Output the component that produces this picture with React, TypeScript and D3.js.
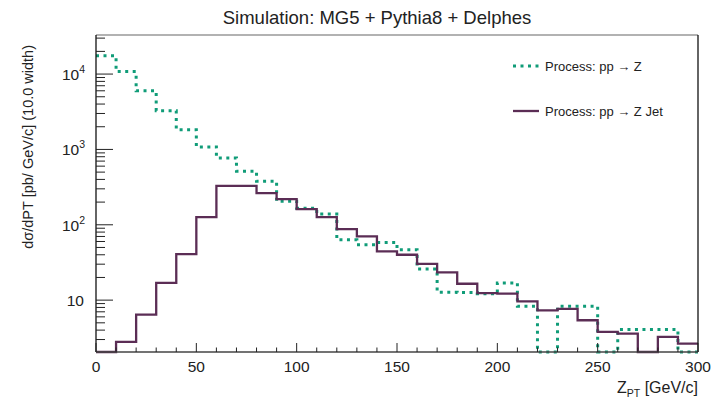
import React from "react";
import * as d3 from "d3";

const binEdges = d3.range(0, 301, 10);
const zValues = [17500, 10800, 6010, 3270, 1830, 1080, 771, 513, 379, 206, 166, 139, 63.2, 54.3, 58.3, 46.6, 25.9, 12.7, 12.6, 12.2, 16.9, 8.28, 0, 8.28, 8.28, 0, 4.07, 4.07, 4.07, 0];
const zJetValues = [0, 2.79, 6.42, 16.9, 40.9, 126, 329, 329, 263, 219, 161, 126, 87.7, 70, 44.3, 40, 30.2, 23.3, 16.5, 12.4, 12.2, 9.64, 7.33, 7.64, 5.41, 3.8, 3.6, 0, 3.26, 2.65];
const xTicks = [0, 50, 100, 150, 200, 250, 300];
const yDecades = [1, 2, 3, 4];
const legendLabels = ["Process: pp \u2192 Z", "Process: pp \u2192 Z Jet"];

const W = 714, H = 402;
const L = 96, R = 698, T = 35, B = 352;
const FONT = "'Liberation Sans', Arial, Helvetica, sans-serif";
const GREEN = "#109c78";
const PURPLE = "#5b2d55";

export default function App() {
  const yMin = 2.05, yMax = 33000;
  const x = d3.scaleLinear().domain([0, 300]).range([L, R]);
  const y = d3.scaleLog().domain([yMin, yMax]).range([B, T]);
  const yc = (v: number) => y(Math.max(v, yMin));

  const stepPts = (vals: number[]) => {
    const pts: [number, number][] = [];
    vals.forEach((v, i) => {
      pts.push([x(binEdges[i]), yc(v)]);
      pts.push([x(binEdges[i + 1]), yc(v)]);
    });
    return pts;
  };
  const line = d3.line<[number, number]>();

  const minorX = d3.range(0, 301, 10).filter((v) => v % 50 !== 0);
  const yMinor: number[] = [];
  for (let e = 0; e <= 4; e++) {
    for (let m = 2; m <= 9; m++) {
      const v = m * Math.pow(10, e);
      if (v > yMin && v < yMax) yMinor.push(v);
    }
  }

  return (
    <svg width={W} height={H} style={{ position: "absolute", left: 0, top: 0, background: "#fff" }} fontFamily={FONT}>
      <rect x={0} y={0} width={W} height={H} fill="#fff" />
      <text x={377} y={24} textAnchor="middle" fontSize={18.5} fill="#222">Simulation: MG5 + Pythia8 + Delphes</text>

      {/* data */}
      <path d={line(stepPts(zValues)) || ""} fill="none" stroke={GREEN} strokeWidth={3} strokeDasharray="3 4.5" />
      <path d={line(stepPts(zJetValues)) || ""} fill="none" stroke={PURPLE} strokeWidth={2.3} />

      {/* frame */}
      <line x1={L} x2={R} y1={T} y2={T} stroke="#999" strokeWidth={1.5} />
      <line x1={R} x2={R} y1={T} y2={B} stroke="#111" strokeWidth={1.3} />
      <line x1={L} x2={L} y1={T} y2={B} stroke="#111" strokeWidth={1.3} />
      <line x1={L} x2={R} y1={B} y2={B} stroke="#444" strokeWidth={1.3} />

      {/* x ticks */}
      {xTicks.map((t) => (
        <g key={"xt" + t}>
          <line x1={x(t)} x2={x(t)} y1={B} y2={B - 9} stroke="#222" strokeWidth={1} />
          <text x={x(t)} y={B + 20} textAnchor="middle" fontSize={15.5} fill="#222">{t}</text>
        </g>
      ))}
      {minorX.map((t) => (
        <line key={"xm" + t} x1={x(t)} x2={x(t)} y1={B} y2={B - 4.5} stroke="#222" strokeWidth={1} />
      ))}

      {/* y ticks */}
      {yDecades.map((e) => (
        <g key={"yt" + e}>
          <line x1={L} x2={L + 17} y1={y(Math.pow(10, e))} y2={y(Math.pow(10, e))} stroke="#222" strokeWidth={1} />
          {e === 1 ? (
            <text x={84} y={y(10) + 6} textAnchor="end" fontSize={15.5} fill="#222">10</text>
          ) : (
            <text x={85} y={y(Math.pow(10, e)) + 6} textAnchor="end" fontSize={15.5} fill="#222">
              10<tspan dy={-7} fontSize={10.5}>{e}</tspan>
            </text>
          )}
        </g>
      ))}
      {yMinor.map((v) => (
        <line key={"ym" + v} x1={L} x2={L + 9} y1={y(v)} y2={y(v)} stroke="#222" strokeWidth={1} />
      ))}

      {/* axis titles */}
      <text transform={`translate(33, 45) rotate(-90)`} textAnchor="end" fontSize={14.5} fill="#222">
        d{"\u03c3"}/dPT [pb/ GeV/c] (10.0 width)
      </text>
      <text x={R} y={393} textAnchor="end" fontSize={16} fill="#222">
        Z<tspan fontSize={10.5} dy={4}>PT</tspan><tspan dy={-4}> [GeV/c]</tspan>
      </text>

      {/* legend */}
      <line x1={513} x2={539} y1={66} y2={66} stroke={GREEN} strokeWidth={3} strokeDasharray="3 4.5" />
      <text x={545} y={70.5} fontSize={13} fill="#222">{legendLabels[0]}</text>
      <line x1={513} x2={539} y1={111} y2={111} stroke={PURPLE} strokeWidth={2.3} />
      <text x={545} y={115.5} fontSize={13} fill="#222">{legendLabels[1]}</text>
    </svg>
  );
}
